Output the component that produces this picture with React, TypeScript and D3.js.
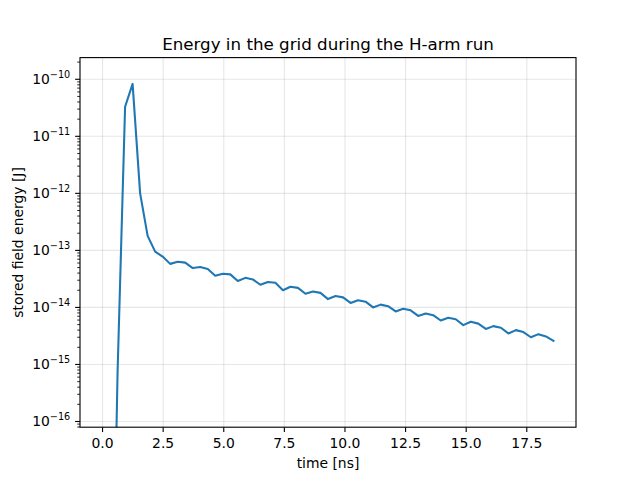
// @ts-nocheck
import { useEffect, useRef } from "react"
import * as d3 from "d3"

// sample times [ns]
const times = [
  0.0, 0.31, 0.62, 0.93, 1.24, 1.55, 1.86, 2.17, 2.48, 2.79,
  3.1, 3.41, 3.72, 4.03, 4.34, 4.65, 4.96, 5.27, 5.58, 5.89,
  6.2, 6.51, 6.82, 7.13, 7.44, 7.75, 8.06, 8.37, 8.68, 8.99,
  9.3, 9.61, 9.92, 10.23, 10.54, 10.85, 11.16, 11.47, 11.78, 12.09,
  12.4, 12.71, 13.02, 13.33, 13.64, 13.95, 14.26, 14.57, 14.88, 15.19,
  15.5, 15.81, 16.12, 16.43, 16.74, 17.05, 17.36, 17.67, 17.98, 18.29,
  18.6,
]

// stored field energy [J]
const energy = [
  1e-30, 1e-22, 7.4e-16, 3.3e-11, 8.3e-11, 1.0e-12, 1.8e-13, 9.5e-14, 7.8e-14, 5.8e-14,
  6.3e-14, 6.1e-14, 4.9e-14, 5.1e-14, 4.7e-14, 3.6e-14, 3.9e-14, 3.8e-14, 2.9e-14, 3.3e-14,
  3.1e-14, 2.5e-14, 2.8e-14, 2.7e-14, 2.0e-14, 2.3e-14, 2.2e-14, 1.74e-14, 1.9e-14, 1.8e-14,
  1.4e-14, 1.58e-14, 1.5e-14, 1.2e-14, 1.34e-14, 1.26e-14, 1.0e-14, 1.12e-14, 1.05e-14, 8.5e-15,
  9.5e-15, 8.9e-15, 7.1e-15, 7.8e-15, 7.3e-15, 5.9e-15, 6.6e-15, 6.2e-15, 4.9e-15, 5.6e-15,
  5.2e-15, 4.2e-15, 4.7e-15, 4.4e-15, 3.5e-15, 4.0e-15, 3.7e-15, 3.0e-15, 3.4e-15, 3.1e-15,
  2.6e-15,
]

const xTicks = [0, 2.5, 5, 7.5, 10, 12.5, 15, 17.5]
const yExponents = [-16, -15, -14, -13, -12, -11, -10]

export default function App() {
  const svgRef = useRef(null)

  useEffect(() => {
    const width = 640
    const height = 480
    const margin = { top: 57.6, right: 64, bottom: 52.8, left: 80 }
    const font = "DejaVu Sans, sans-serif"
    const pt = 100 / 72

    const svg = d3.select(svgRef.current)
    svg.selectAll("*").remove()
    svg.attr("width", width).attr("height", height)

    const [t0, t1] = d3.extent(times)
    const pad = (t1 - t0) * 0.05
    const x = d3
      .scaleLinear()
      .domain([t0 - pad, t1 + pad])
      .range([margin.left, width - margin.right])
    const y = d3
      .scaleLog()
      .domain([Math.pow(10, -16.1), Math.pow(10, -9.62)])
      .range([height - margin.bottom, margin.top])

    const x0 = margin.left
    const x1 = width - margin.right
    const y0 = height - margin.bottom
    const y1 = margin.top

    svg.append("rect").attr("width", width).attr("height", height).attr("fill", "white")

    svg
      .append("defs")
      .append("clipPath")
      .attr("id", "plot-clip")
      .append("rect")
      .attr("x", x0)
      .attr("y", y1)
      .attr("width", x1 - x0)
      .attr("height", y0 - y1)

    // grid
    const grid = svg.append("g").attr("stroke", "#b0b0b0").attr("stroke-opacity", 0.3).attr("stroke-width", 0.8 * pt)
    xTicks.forEach((t) => {
      grid.append("line").attr("x1", x(t)).attr("x2", x(t)).attr("y1", y0).attr("y2", y1)
    })
    yExponents.forEach((e) => {
      const v = Math.pow(10, e)
      grid.append("line").attr("x1", x0).attr("x2", x1).attr("y1", y(v)).attr("y2", y(v))
    })

    // data line
    const line = d3
      .line()
      .x((d, i) => x(times[i]))
      .y((d) => y(d))
    svg
      .append("path")
      .datum(energy)
      .attr("clip-path", "url(#plot-clip)")
      .attr("d", line)
      .attr("fill", "none")
      .attr("stroke", "#1f77b4")
      .attr("stroke-width", 1.5 * pt)
      .attr("stroke-linejoin", "round")
      .attr("stroke-linecap", "square")

    // spines
    svg
      .append("rect")
      .attr("x", x0)
      .attr("y", y1)
      .attr("width", x1 - x0)
      .attr("height", y0 - y1)
      .attr("fill", "none")
      .attr("stroke", "black")
      .attr("stroke-width", 0.8 * pt)

    const tickLen = 3.5 * pt
    const tickPad = 3.5 * pt

    // x ticks
    const xt = svg.append("g")
    xTicks.forEach((t) => {
      xt.append("line").attr("x1", x(t)).attr("x2", x(t)).attr("y1", y0).attr("y2", y0 + tickLen).attr("stroke", "black").attr("stroke-width", 0.8 * pt)
      xt.append("text")
        .attr("x", x(t))
        .attr("y", y0 + tickLen + tickPad + 10.6)
        .attr("text-anchor", "middle")
        .attr("font-family", font)
        .attr("font-size", 13.9)
        .text(t.toFixed(1))
    })

    // y ticks
    const yt = svg.append("g")
    const [lo, hi] = y.domain()
    for (let e = -17; e <= -9; e++) {
      for (let k = 2; k <= 9; k++) {
        const v = k * Math.pow(10, e)
        if (v < lo || v > hi) continue
        yt.append("line").attr("x1", x0 - 2 * pt).attr("x2", x0).attr("y1", y(v)).attr("y2", y(v)).attr("stroke", "black").attr("stroke-width", 0.6 * pt)
      }
    }
    yExponents.forEach((e) => {
      const v = Math.pow(10, e)
      yt.append("line").attr("x1", x0 - tickLen).attr("x2", x0).attr("y1", y(v)).attr("y2", y(v)).attr("stroke", "black").attr("stroke-width", 0.8 * pt)
      const label = yt
        .append("text")
        .attr("x", x0 - tickLen - tickPad)
        .attr("y", y(v) + 5)
        .attr("text-anchor", "end")
        .attr("font-family", font)
        .attr("font-size", 13.9)
      label.append("tspan").text("10")
      label
        .append("tspan")
        .attr("dy", -6)
        .attr("font-size", 9.7)
        .text("\u2212" + Math.abs(e))
    })

    // labels
    svg
      .append("text")
      .attr("x", (x0 + x1) / 2)
      .attr("y", 50)
      .attr("text-anchor", "middle")
      .attr("font-family", font)
      .attr("font-size", 16.7)
      .text("Energy in the grid during the H-arm run")

    svg
      .append("text")
      .attr("x", (x0 + x1) / 2)
      .attr("y", 468)
      .attr("text-anchor", "middle")
      .attr("font-family", font)
      .attr("font-size", 13.9)
      .text("time [ns]")

    svg
      .append("text")
      .attr("transform", `translate(23,${(y0 + y1) / 2}) rotate(-90)`)
      .attr("text-anchor", "middle")
      .attr("font-family", font)
      .attr("font-size", 13.9)
      .text("stored field energy [J]")
  }, [])

  return <svg ref={svgRef} style={{ position: "absolute", left: 0, top: 0 }} />
}
